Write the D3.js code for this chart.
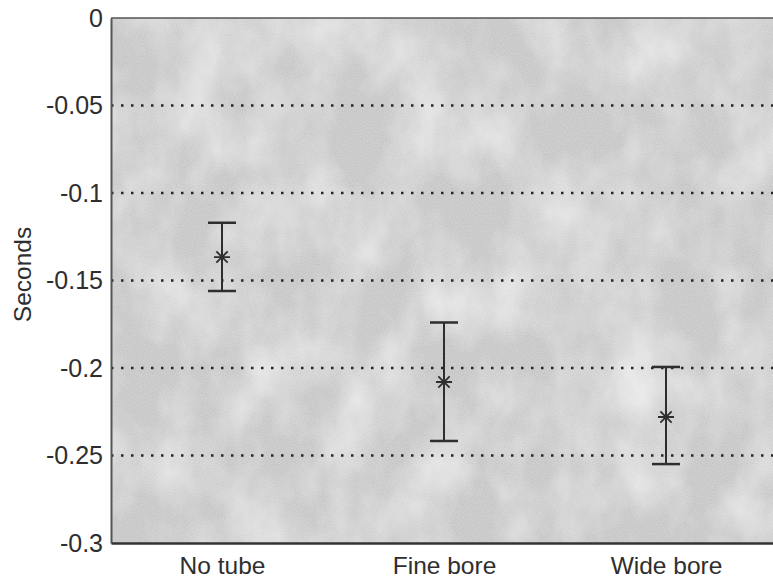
<!DOCTYPE html>
<html>
<head>
<meta charset="utf-8">
<script src="https://cdn.jsdelivr.net/npm/d3@7"></script>
<style>
  html, body { margin: 0; padding: 0; background: #ffffff; }
  svg { display: block; }
  text { font-family: "Liberation Sans", Arial, Helvetica, sans-serif; }
</style>
</head>
<body>
<svg id="chart" width="773" height="581"></svg>
<script>
// ---- data ----
const categories = ["No tube", "Fine bore", "Wide bore"];
const means = [-0.1366, -0.208, -0.228];
const upper = [-0.117, -0.174, -0.1994];
const lower = [-0.156, -0.2417, -0.2549];
const tickValues = [0, -0.05, -0.1, -0.15, -0.2, -0.25, -0.3];
const tickLabels = ["0", "-0.05", "-0.1", "-0.15", "-0.2", "-0.25", "-0.3"];
const gridValues = [-0.05, -0.1, -0.15, -0.2, -0.25];
const yLabel = "Seconds";

(function () {
// ---- layout ----
const svg = d3.select("#chart");
const pLeft = 111, pRight = 777, pTop = 18, pBottom = 543;
const ink = "#2e2e2e";

const x = d3.scalePoint().domain(categories).range([pLeft, pRight]).padding(0.5);
const y = d3.scaleLinear().domain([-0.3, 0]).range([pBottom, pTop]);

// ---- background texture ----
const defs = svg.append("defs");
const f = defs.append("filter").attr("id", "blot")
  .attr("x", 0).attr("y", 0).attr("width", "100%").attr("height", "100%");
f.append("feTurbulence").attr("type", "fractalNoise")
  .attr("baseFrequency", "0.018 0.012").attr("numOctaves", 4).attr("seed", 11);
f.append("feColorMatrix").attr("type", "matrix")
  .attr("values", "0 0 0 0 1  0 0 0 0 1  0 0 0 0 1  1.3 0 0 0 -0.45");
const f2 = defs.append("filter").attr("id", "grain")
  .attr("x", 0).attr("y", 0).attr("width", "100%").attr("height", "100%");
f2.append("feTurbulence").attr("type", "fractalNoise")
  .attr("baseFrequency", "0.9").attr("numOctaves", 1).attr("seed", 3);
f2.append("feColorMatrix").attr("type", "matrix")
  .attr("values", "0 0 0 0 0.4  0 0 0 0 0.4  0 0 0 0 0.4  0 0 0 0.8 -0.3");

const pw = pRight - pLeft, ph = pBottom - pTop;
svg.append("rect").attr("x", pLeft).attr("y", pTop).attr("width", pw).attr("height", ph)
  .attr("fill", "#cfcfcf");
svg.append("rect").attr("x", pLeft).attr("y", pTop).attr("width", pw).attr("height", ph)
  .attr("filter", "url(#grain)");
svg.append("rect").attr("x", pLeft).attr("y", pTop).attr("width", pw).attr("height", ph)
  .attr("filter", "url(#blot)").attr("opacity", 0.8);

// ---- gridlines ----
svg.append("g").selectAll("line").data(gridValues).join("line")
  .attr("x1", pLeft).attr("x2", pRight)
  .attr("y1", d => y(d)).attr("y2", d => y(d))
  .attr("stroke", "#262626").attr("stroke-width", 2.4)
  .attr("stroke-dasharray", "2.5,7.5");

// ---- frame ----
svg.append("line").attr("x1", pLeft).attr("x2", pRight).attr("y1", pTop).attr("y2", pTop)
  .attr("stroke", "#555").attr("stroke-width", 1.5);

// ---- axes ----
const yAxis = d3.axisLeft(y).tickValues(tickValues).tickSize(0).tickPadding(8)
  .tickFormat((d, i) => tickLabels[i]);
const gy = svg.append("g").attr("transform", `translate(${pLeft},0)`).call(yAxis);
gy.select(".domain").attr("stroke", "#555").attr("stroke-width", 2);
gy.selectAll("text").attr("font-size", 25).attr("fill", ink);

const xAxis = d3.axisBottom(x).tickSize(0).tickPadding(14);
const gx = svg.append("g").attr("transform", `translate(0,${pBottom})`).call(xAxis);
gx.select(".domain").attr("stroke", "#333").attr("stroke-width", 2.5);
gx.selectAll("text").attr("font-size", 24.5).attr("fill", ink);

svg.append("text")
  .attr("transform", `translate(31,${(pTop + pBottom) / 2 - 6}) rotate(-90)`)
  .attr("text-anchor", "middle")
  .attr("font-size", 24.5).attr("fill", ink)
  .text(yLabel);

// ---- error bars ----
const bars = svg.append("g");
const capW = 14;
categories.forEach((c, i) => {
  const cx = x(c);
  bars.append("line").attr("x1", cx).attr("x2", cx)
    .attr("y1", y(upper[i])).attr("y2", y(lower[i]))
    .attr("stroke", ink).attr("stroke-width", 2);
  [upper[i], lower[i]].forEach(v => {
    bars.append("line").attr("x1", cx - capW).attr("x2", cx + capW)
      .attr("y1", y(v)).attr("y2", y(v))
      .attr("stroke", ink).attr("stroke-width", 2.5);
  });
});

// ---- star markers ----
const star8 = {
  draw(ctx, size) {
    const r = Math.sqrt(size) / 2;
    for (let k = 0; k < 4; k++) {
      const a = k * Math.PI / 4;
      const dx = Math.cos(a) * r, dy = Math.sin(a) * r;
      ctx.moveTo(-dx, -dy);
      ctx.lineTo(dx, dy);
    }
  }
};
svg.append("g").selectAll("path").data(categories).join("path")
  .attr("transform", (c, i) => `translate(${x(c)},${y(means[i])})`)
  .attr("d", d3.symbol().type(star8).size(256))
  .attr("fill", "none").attr("stroke", ink).attr("stroke-width", 1.8);
})();
</script>
</body>
</html>
